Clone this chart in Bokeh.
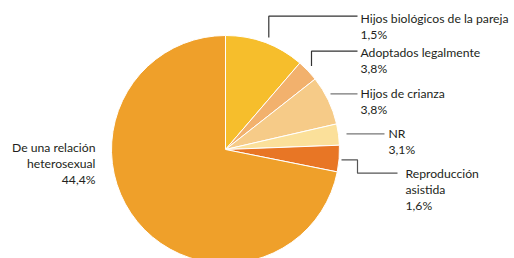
import math
from bokeh.plotting import figure
from bokeh.models import Range1d, ColumnDataSource
from bokeh.core.properties import value
from bokeh.embed import file_html
from bokeh.resources import INLINE

# Data (slice shares as drawn, and the label texts printed next to them)
categories = ["Hijos biológicos de la pareja", "Adoptados legalmente", "Hijos de crianza",
              "NR", "Reproducción asistida", "De una relación heterosexual"]
shares = [11.3, 3.1, 7.0, 3.0, 3.75, 71.85]
pct_labels = ["1,5%", "3,8%", "3,8%", "3,1%", "1,6%", "44,4%"]
colors = ["#F6BE2C", "#F2B16D", "#F6CB88", "#FBE09A", "#E87625", "#EFA02A"]

W, H = 514, 258
p = figure(width=W, height=H, output_backend="svg", toolbar_location=None,
           x_range=Range1d(0, W), y_range=Range1d(0, H), min_border=0)
p.axis.visible = False
p.grid.visible = False
p.outline_line_color = None
p.background_fill_color = "white"

def Y(sy):
    return H - sy

cx, cy, r = 225, Y(149), 114
total = sum(shares)
starts, ends = [], []
acc = 0.0
for s in shares:
    a0 = math.pi / 2 - acc / total * 2 * math.pi
    acc += s
    a1 = math.pi / 2 - acc / total * 2 * math.pi
    starts.append(a0)
    ends.append(a1)

src = ColumnDataSource(dict(start=starts, end=ends, color=colors, cat=categories))
p.wedge(x=cx, y=cy, radius=r, start_angle="start", end_angle="end", direction="clock",
        fill_color="color", line_color="white", line_width=1, source=src)

# Leader lines (screen coordinates converted)
def line(xs, ys, color):
    p.line(xs, [Y(v) for v in ys], line_color=color, line_width=1.2)

line([268.3, 268.3, 357], [37, 15.7, 15.7], "#333333")
line([311, 311, 357], [65.5, 50.7, 50.7], "#333333")
line([330, 357], [93.3, 93.3], "#777777")
line([346, 384], [133.3, 133.3], "#777777")
line([341, 357, 357, 397], [159.3, 159.3, 172.7, 172.7], "#555555")

font = value("Lato")
fs = "12.2px"
tc = "#231F20"

def txt(x, ys, lines, align="left"):
    p.text(x=[x] * len(lines), y=[Y(v) for v in ys], text=lines, text_font=font,
           text_font_size=fs, text_color=tc, text_align=align, text_baseline="middle")

txt(360, [17.5, 33.5], [categories[0], pct_labels[0]])
txt(360, [52, 68], [categories[1], pct_labels[1]])
txt(360, [92.5, 108.5], [categories[2], pct_labels[2]])
txt(388, [132.5, 148.5], [categories[3], pct_labels[3]])
txt(405, [172.5, 188.5, 204.5], ["Reproducción", "asistida", pct_labels[4]])
txt(95, [147, 163, 179], ["De una relación", "heterosexual", pct_labels[5]], align="right")

open("out.html", "w").write(file_html(p, INLINE))
